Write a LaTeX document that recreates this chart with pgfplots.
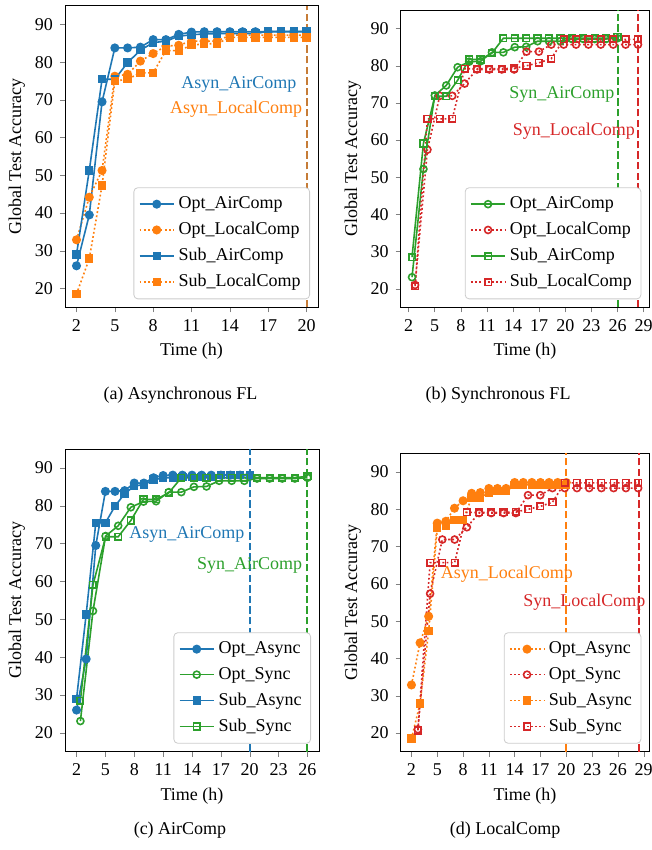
\documentclass[border=0pt]{standalone}
\usepackage{fontspec}
\setmainfont{Liberation Serif}
\usepackage{pgfplots}
\usepackage{pgfplotstable}
\pgfplotsset{compat=1.18}

\definecolor{tblue}{HTML}{1F77B4}
\definecolor{torange}{HTML}{FF7F0E}
\definecolor{tgreen}{HTML}{2CA02C}
\definecolor{tred}{HTML}{D62728}

\pgfplotstableread{
t  oa   sa   ol   sl
2  26.0 29.0 32.9 18.5
3  39.5 51.3 44.2 27.9
4  69.5 75.5 51.3 47.3
5  83.8 75.5 76.3 75.0
6  83.8 79.9 76.8 75.5
7  84.0 83.2 80.3 77.2
8  86.0 85.2 82.3 77.2
9  86.0 85.6 84.3 83.1
10 87.4 86.9 84.5 83.1
11 88.0 87.3 85.6 84.5
12 88.1 87.5 85.6 84.9
13 88.1 87.6 85.6 84.9
14 88.1 87.6 87.2 86.6
15 88.1 87.6 87.2 86.6
16 88.1 87.6 87.2 86.6
17 88.1 88.2 87.2 86.6
18 88.1 88.2 87.2 86.6
19 88.1 88.2 87.2 86.6
20 88.1 88.2 87.2 86.6
}\asyn

\pgfplotstableread{
t     oa   sa
2.40  23.1 28.5
3.71  52.2 59.1
5.02  72.0 71.8
6.33  74.7 71.8
7.64  79.6 76.1
8.96  81.1 81.7
10.27 81.2 81.7
11.58 83.6 83.4
12.89 83.6 87.4
14.20 85.0 87.4
15.51 85.1 87.4
16.82 86.6 87.4
18.13 86.6 87.4
19.44 86.6 87.4
20.76 87.2 87.4
22.07 87.2 87.4
23.38 87.2 87.4
24.69 87.2 87.4
26.00 87.4 87.8
}\synair

\pgfplotstableread{
t     ol   sl
2.75  21.0 20.7
4.17  57.4 65.7
5.59  71.9 65.7
7.02  71.9 65.7
8.44  75.2 79.2
9.86  79.0 79.2
11.28 79.0 79.2
12.71 79.0 79.2
14.13 79.0 79.3
15.55 83.8 80.0
16.97 83.8 80.8
18.39 85.7 81.9
19.82 85.7 87.1
21.24 85.7 87.1
22.66 85.7 87.1
24.08 85.7 87.1
25.50 85.7 87.1
26.93 85.7 87.1
28.35 85.7 87.1
}\synlocal

\pgfplotsset{
  myax/.style={
    scale only axis,
    anchor=north west,
    ymin=15, ymax=95,
    ytick={20,30,...,90},
    tick align=outside, tick pos=left,
    major tick length=2.5pt,
    font=\fontsize{9}{11}\selectfont,
    tick label style={font=\fontsize{9}{11}\selectfont},
    /pgf/number format/assume math mode=true,
    ylabel={Global Test Accuracy},
    xlabel={Time (h)},
    xlabel style={at={(axis description cs:0.5,0)}, anchor=center, yshift=-22pt},
    legend style={at={(axis description cs:1,0)}, anchor=south east, xshift=-4pt, yshift=4pt,
      draw=black!20, rounded corners=2pt, fill=white, font=\fontsize{9}{11}\selectfont,
      row sep=1.3pt, inner sep=2.5pt},
    legend cell align=left,
    every axis plot/.append style={line width=0.8pt},
    clip=false,
  },
  dotl/.style={dash pattern=on 0.9pt off 1.2pt},
  vl/.style={dash pattern=on 3.7pt off 1.6pt, line width=1pt, forget plot},
  fc/.style={mark=*, mark size=1.85pt, mark options={solid}},
  fs/.style={mark=square*, mark size=1.7pt, mark options={solid}},
  hc/.style={mark=o, mark size=1.75pt, mark options={solid}},
  hs/.style={mark=square, mark size=1.65pt, mark options={solid}},
}

\begin{document}
\begin{tikzpicture}
\path[use as bounding box] (0,0) rectangle (326pt,-425pt);

% (a)
\begin{axis}[myax, at={(32.5pt,-2.85pt)}, width=126.5pt, height=150.8pt,
  xmin=1.1, xmax=20.9, xtick={2,5,...,20},
  ylabel style={at={(axis description cs:-0.19,0.5)}, anchor=center}]
\addplot[vl, tblue] coordinates {(20,15) (20,95)};
\addplot[vl, torange, opacity=0.75] coordinates {(20,15) (20,95)};
\addplot[tblue, fc] table[x=t,y=oa]{\asyn};
\addlegendentry{Opt\_AirComp}
\addplot[torange, dotl, fc] table[x=t,y=ol]{\asyn};
\addlegendentry{Opt\_LocalComp}
\addplot[tblue, fs] table[x=t,y=sa]{\asyn};
\addlegendentry{Sub\_AirComp}
\addplot[torange, dotl, fs] table[x=t,y=sl]{\asyn};
\addlegendentry{Sub\_LocalComp}
\node[text=tblue] at (axis cs:14.7,74.2) {Asyn\_AirComp};
\node[text=torange] at (axis cs:14.5,67.5) {Asyn\_LocalComp};
\end{axis}

% (b)
\begin{axis}[myax, at={(200.35pt,-5pt)}, width=124.3pt, height=148.65pt,
  xmin=1.1, xmax=29.65, xtick={2,5,...,29},
  ylabel style={at={(axis description cs:-0.193,0.5)}, anchor=center}]
\addplot[vl, tgreen] coordinates {(26,15) (26,95)};
\addplot[vl, tred] coordinates {(28.4,15) (28.4,95)};
\addplot[tgreen, hc] table[x=t,y=oa]{\synair};
\addlegendentry{Opt\_AirComp}
\addplot[tred, dotl, hc] table[x=t,y=ol]{\synlocal};
\addlegendentry{Opt\_LocalComp}
\addplot[tgreen, hs] table[x=t,y=sa]{\synair};
\addlegendentry{Sub\_AirComp}
\addplot[tred, dotl, hs] table[x=t,y=sl]{\synlocal};
\addlegendentry{Sub\_LocalComp}
\node[text=tgreen] at (axis cs:19.6,72.2) {Syn\_AirComp};
\node[text=tred] at (axis cs:21.0,62.4) {Syn\_LocalComp};
\end{axis}

% (c)
\begin{axis}[myax, at={(32.5pt,-224.5pt)}, width=127pt, height=151.35pt,
  xmin=0.8, xmax=27.2, xtick={2,5,...,26},
  ylabel style={at={(axis description cs:-0.19,0.5)}, anchor=center}]
\addplot[vl, tblue] coordinates {(20,15) (20,95)};
\addplot[vl, tgreen] coordinates {(26,15) (26,95)};
\addplot[tblue, fc] table[x=t,y=oa]{\asyn};
\addlegendentry{Opt\_Async}
\addplot[tgreen, hc] table[x=t,y=oa]{\synair};
\addlegendentry{Opt\_Sync}
\addplot[tblue, fs] table[x=t,y=sa]{\asyn};
\addlegendentry{Sub\_Async}
\addplot[tgreen, hs] table[x=t,y=sa]{\synair};
\addlegendentry{Sub\_Sync}
\node[text=tblue] at (axis cs:13.47,72.4) {Asyn\_AirComp};
\node[text=tgreen] at (axis cs:20.0,64.3) {Syn\_AirComp};
\end{axis}

% (d)
\begin{axis}[myax, at={(200.35pt,-226.7pt)}, width=124.3pt, height=149.15pt,
  xmin=0.75, xmax=29.65, xtick={2,5,...,29},
  ylabel style={at={(axis description cs:-0.193,0.5)}, anchor=center}]
\addplot[vl, torange] coordinates {(20,15) (20,95)};
\addplot[vl, tred] coordinates {(28.4,15) (28.4,95)};
\addplot[torange, dotl, fc] table[x=t,y=ol]{\asyn};
\addlegendentry{Opt\_Async}
\addplot[tred, dotl, hc] table[x=t,y=ol]{\synlocal};
\addlegendentry{Opt\_Sync}
\addplot[torange, dotl, fs] table[x=t,y=sl]{\asyn};
\addlegendentry{Sub\_Async}
\addplot[tred, dotl, hs] table[x=t,y=sl]{\synlocal};
\addlegendentry{Sub\_Sync}
\node[text=torange] at (axis cs:13.1,62.5) {Asyn\_LocalComp};
\node[text=tred] at (axis cs:22.1,55.0) {Syn\_LocalComp};
\end{axis}

\node[font=\fontsize{9}{11}\selectfont] at (90.25pt,-197.5pt) {(a) Asynchronous FL};
\node[font=\fontsize{9}{11}\selectfont] at (249pt,-197.5pt) {(b) Synchronous FL};
\node[font=\fontsize{9}{11}\selectfont] at (90pt,-415pt) {(c) AirComp};
\node[font=\fontsize{9}{11}\selectfont] at (252.5pt,-415pt) {(d) LocalComp};
\end{tikzpicture}
\end{document}
